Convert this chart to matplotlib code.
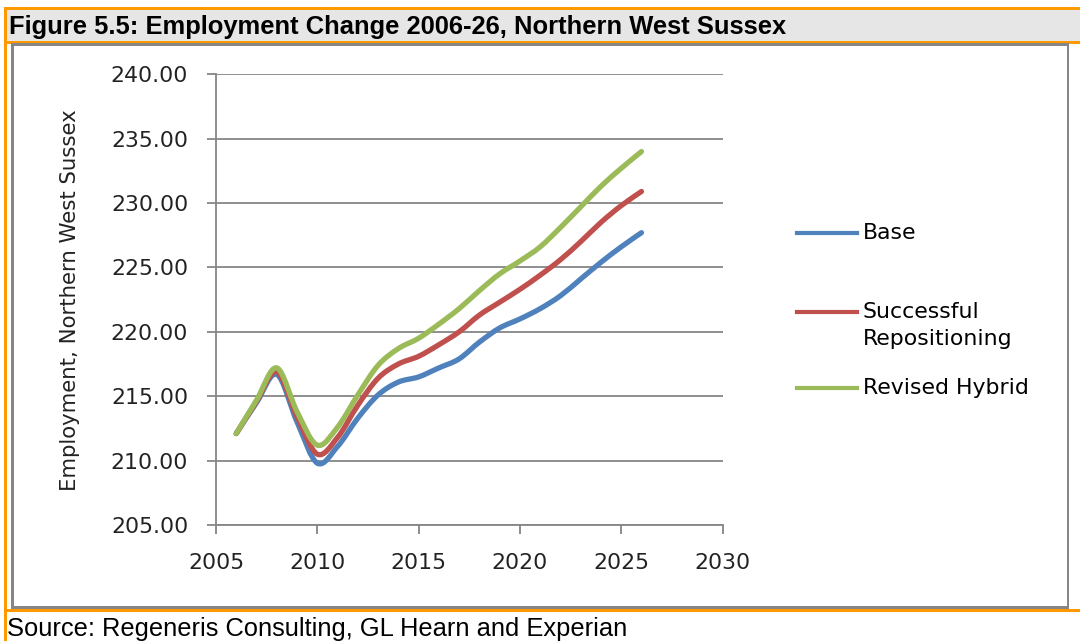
"""Employment change 2006-26 for Northern West Sussex, redrawn as a framed report figure."""

import matplotlib
matplotlib.use("Agg")
import matplotlib.pyplot as plt
from matplotlib.patches import Rectangle, PathPatch
from matplotlib.lines import Line2D
from matplotlib.path import Path
from matplotlib.ticker import FormatStrFormatter

W, H = 1080, 641

years = list(range(2006, 2027))
base = [212.1, 214.5, 216.7, 213.0, 209.8, 211.1, 213.3, 215.1, 216.1, 216.5,
        217.2, 217.9, 219.2, 220.3, 221.0, 221.8, 222.8, 224.1, 225.4, 226.6, 227.7]
successful = [212.1, 214.6, 216.9, 213.4, 210.5, 211.8, 214.3, 216.4, 217.5, 218.1,
              219.0, 220.0, 221.3, 222.3, 223.3, 224.4, 225.6, 227.0, 228.5, 229.8, 230.9]
hybrid = [212.1, 214.7, 217.2, 213.8, 211.2, 212.6, 215.1, 217.4, 218.7, 219.5,
          220.6, 221.8, 223.2, 224.5, 225.5, 226.6, 228.1, 229.7, 231.3, 232.7, 234.0]

series_names = ["Base", "Successful\nRepositioning", "Revised Hybrid"]
series_colors = ["#4F81BD", "#C0504D", "#9BBB59"]

title = "Figure 5.5: Employment Change 2006-26, Northern West Sussex"
source = "Source: Regeneris Consulting, GL Hearn and Experian"
ylabel = "Employment, Northern West Sussex"

ORANGE = "#FF9900"
GREY = "#868686"
FONT = "DejaVu Sans"


def px_rect(fig, x0, y0, x1, y1, color):
    # rectangle given in pixels from the top-left corner
    fig.patches.append(Rectangle((x0 / W, 1 - y1 / H), (x1 - x0) / W, (y1 - y0) / H,
                                 transform=fig.transFigure, facecolor=color,
                                 edgecolor="none", zorder=0))


def smooth_path(xs, ys):
    """Excel-style smoothed line: cubic Bezier pieces through every point."""
    pts = list(zip(xs, ys))
    verts = [pts[0]]
    codes = [Path.MOVETO]
    n = len(pts)
    for i in range(n - 1):
        p0 = pts[max(i - 1, 0)]
        p1 = pts[i]
        p2 = pts[i + 1]
        p3 = pts[min(i + 2, n - 1)]
        c1 = (p1[0] + (p2[0] - p0[0]) / 6, p1[1] + (p2[1] - p0[1]) / 6)
        c2 = (p2[0] - (p3[0] - p1[0]) / 6, p2[1] - (p3[1] - p1[1]) / 6)
        verts += [c1, c2, p2]
        codes += [Path.CURVE4] * 3
    return Path(verts, codes)


def draw_frame(fig):
    px_rect(fig, 7, 9, W, 41, "#E6E6E6")
    px_rect(fig, 5, 7, W, 9.5, ORANGE)
    px_rect(fig, 4, 7, 7, H, ORANGE)
    px_rect(fig, 7, 41, W, 43.5, ORANGE)
    # inner grey box round the chart
    px_rect(fig, 11, 43.5, 1069, 45.5, GREY)
    px_rect(fig, 11, 43.5, 13.5, 608, GREY)
    px_rect(fig, 1066.5, 43.5, 1069, 608, GREY)
    px_rect(fig, 11, 606, 1069, 608.5, GREY)
    px_rect(fig, 7, 608.5, W, 611.5, ORANGE)

    fig.text(9 / W, 1 - 27 / H, title, family="Liberation Sans", weight="bold",
             fontsize=18.4, va="center", ha="left")
    fig.text(7 / W, 1 - 629 / H, source, family="Liberation Sans",
             fontsize=18.4, va="center", ha="left")


def draw_legend(fig):
    rows = [233, 312, 388]
    for name, color, y in zip(series_names, series_colors, rows):
        fig.add_artist(Line2D([797 / W, 857 / W], [1 - y / H, 1 - y / H],
                              transform=fig.transFigure, color=color, lw=3.0))
        fig.text(863 / W, 1 - (y - 10) / H, name, family=FONT, fontsize=15.8,
                 va="top", ha="left", linespacing=1.45)


def main():
    fig = plt.figure(figsize=(W / 100, H / 100), dpi=100)
    draw_frame(fig)

    ax = fig.add_axes([216 / W, 1 - 525 / H, (722.5 - 216) / W, (525 - 74.3) / H])
    for values, color in zip([base, successful, hybrid], series_colors):
        ax.add_patch(PathPatch(smooth_path(years, values), fill=False, edgecolor=color,
                               lw=3.8, joinstyle="round", capstyle="round", zorder=3))

    ax.set_xlim(2005, 2030)
    ax.set_ylim(205, 240)
    ax.set_xticks(range(2005, 2031, 5))
    ax.set_yticks(range(205, 241, 5))
    ax.yaxis.set_major_formatter(FormatStrFormatter("%.2f"))
    ax.grid(axis="y", color=GREY, lw=1.3)
    ax.set_axisbelow(True)

    for side in ["top", "right"]:
        ax.spines[side].set_visible(False)
    for side in ["left", "bottom"]:
        ax.spines[side].set_color(GREY)
        ax.spines[side].set_linewidth(1.3)
    ax.tick_params(axis="both", direction="out", length=6.5, width=1.3, color=GREY,
                   labelsize=15.8, labelcolor="#222222")
    ax.tick_params(axis="y", pad=13.5)
    ax.tick_params(axis="x", pad=14)
    for lab in ax.get_xticklabels() + ax.get_yticklabels():
        lab.set_family(FONT)

    ax.set_ylabel(ylabel, family=FONT, fontsize=15.3, color="#222222", labelpad=22)

    draw_legend(fig)
    fig.savefig("out.png", dpi=100)
    plt.close(fig)


if __name__ == "__main__":
    main()
